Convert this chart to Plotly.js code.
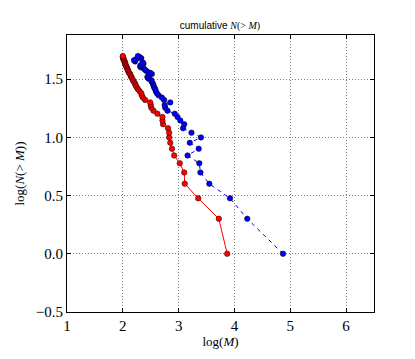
<!DOCTYPE html>
<html>
<head>
<meta charset="utf-8">
<script src="https://cdn.plot.ly/plotly-3.0.1.min.js"></script>
<style>
  html, body { margin: 0; padding: 0; background: #fff; }
  #chart { width: 415px; height: 359px; }
</style>
</head>
<body>
<div id="chart"></div>
<script>
// log10 of the cumulative count N(>M), shared by both samples
const logN = [
  0.000, 0.301, 0.477, 0.602, 0.699, 0.778, 0.845, 0.903, 0.954, 1.000,
  1.041, 1.079, 1.114, 1.146, 1.176, 1.204, 1.230, 1.255, 1.279, 1.301,
  1.322, 1.342, 1.362, 1.380, 1.398, 1.415, 1.431, 1.447, 1.462, 1.477,
  1.491, 1.505, 1.519, 1.531, 1.544, 1.556, 1.568, 1.580, 1.591, 1.602,
  1.613, 1.623, 1.633, 1.643, 1.653, 1.663, 1.672, 1.681, 1.690, 1.699
];

const logMRed = [
  3.87, 3.72, 3.35, 3.11, 3.10, 3.02, 2.92, 2.88, 2.85, 2.83,
  2.83, 2.81, 2.72, 2.71, 2.71, 2.62, 2.55, 2.51, 2.50, 2.49,
  2.40, 2.36, 2.34, 2.33, 2.30, 2.27, 2.25, 2.23, 2.22, 2.20,
  2.18, 2.17, 2.15, 2.14, 2.13, 2.11, 2.10, 2.09, 2.08, 2.07,
  2.06, 2.05, 2.04, 2.04, 2.03, 2.02, 2.01, 2.01, 2.00, 2.00
];

const logMBlue = [
  4.87, 4.23, 3.92, 3.55, 3.39, 3.37, 3.16, 3.36, 3.20, 3.40,
  3.23, 3.08, 3.10, 3.03, 2.98, 2.93, 2.80, 2.76, 2.75, 2.85,
  2.74, 2.70, 2.64, 2.61, 2.59, 2.58, 2.56, 2.55, 2.54, 2.52,
  2.51, 2.46, 2.44, 2.47, 2.52, 2.49, 2.43, 2.40, 2.38, 2.32,
  2.31, 2.33, 2.37, 2.36, 2.22, 2.20, 2.24, 2.33, 2.30, 2.27
];

const xTicks = [1, 2, 3, 4, 5, 6];
const yTicks = [-0.5, 0.0, 0.5, 1.0, 1.5];
const yTickText = ['\u22120.5', '0.0', '0.5', '1.0', '1.5'];

const serif = '"Liberation Serif", "DejaVu Serif", serif';

const traceRed = {
  x: logMRed,
  y: logN,
  type: 'scatter',
  mode: 'lines+markers',
  line: { color: '#ff0000', width: 1 },
  marker: { color: '#ff0000', size: 5.5, line: { color: '#000000', width: 0.5 } }
};

const traceBlue = {
  x: logMBlue,
  y: logN,
  type: 'scatter',
  mode: 'lines+markers',
  line: { color: '#0000ff', width: 1, dash: '4px,4px' },
  marker: { color: '#0000ff', size: 5.5, line: { color: '#000000', width: 0.5 } }
};

const axisCommon = {
  showline: true,
  linecolor: '#000',
  linewidth: 1,
  mirror: 'ticks',
  ticks: 'inside',
  ticklen: 4,
  tickcolor: '#000',
  showgrid: true,
  gridcolor: '#808080',
  griddash: '1px,2px',
  gridwidth: 1,
  zeroline: false,
  tickfont: { family: serif, size: 15, color: '#000' }
};

const layout = {
  width: 415,
  height: 359,
  margin: { l: 67, r: 41, t: 35, b: 47 },
  paper_bgcolor: '#fff',
  plot_bgcolor: '#fff',
  showlegend: false,
  title: {
    text: 'cumulative <span style="font-family:\'Liberation Serif\', serif"><i>N</i>(&gt; <i>M</i>)</span>',
    font: { family: '"Liberation Sans", Arial, sans-serif', size: 10, color: '#000' },
    x: 0.53,
    xanchor: 'center',
    y: 0.93,
    yanchor: 'middle'
  },
  xaxis: Object.assign({}, axisCommon, {
    range: [1, 6.5],
    tickvals: xTicks,
    ticktext: xTicks.map(String),
    title: { text: 'log(<i>M</i>)', font: { family: serif, size: 13, color: '#000' }, standoff: 2 }
  }),
  yaxis: Object.assign({}, axisCommon, {
    range: [-0.5, 1.88],
    tickvals: yTicks,
    ticktext: yTickText,
    title: { text: 'log(<i>N</i>(&gt; <i>M</i>))', font: { family: serif, size: 13, color: '#000' }, standoff: 8 }
  })
};

Plotly.newPlot('chart', [traceRed, traceBlue], layout, { displayModeBar: false, staticPlot: true });
</script>
</body>
</html>
